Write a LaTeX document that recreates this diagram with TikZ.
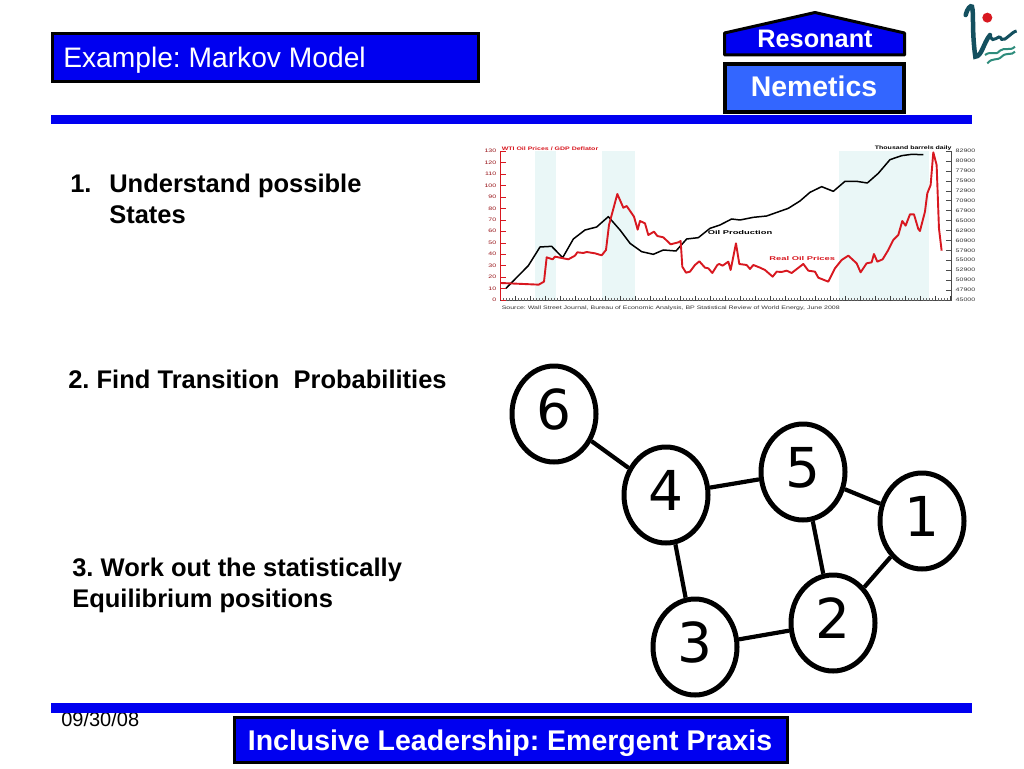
\documentclass[tikz,border=0pt]{standalone}
\usepackage{fontspec}
\setmainfont{Liberation Sans}
\newfontfamily\digitfont{DejaVu Sans}
\usepackage{xcolor}
\usetikzlibrary{positioning}
\usetikzlibrary{shapes.geometric}
\definecolor{barblue}{HTML}{0000F0}
\definecolor{lightblue}{HTML}{3366FF}
\definecolor{oilred}{HTML}{D81820}
\definecolor{bandteal}{HTML}{EAF7F7}
\definecolor{logoteal}{HTML}{14505F}
\definecolor{wavegreen}{HTML}{2E8C7C}
\newcommand{\sz}[1]{\fontsize{#1}{#1}\selectfont}
\frenchspacing

\begin{document}
\begin{tikzpicture}[x=1pt,y=-1pt,-,>=stealth,node distance=100pt,on grid,semithick]
  \tikzstyle{bar}=[fill=barblue,draw=none]
  \tikzstyle{bluebox}=[draw=black,fill=barblue,line width=3pt]
  \tikzstyle{body}=[anchor=base west,inner sep=0pt,font=\sz{25.5}\bfseries]
  \tikzstyle{whitetext}=[text=white,inner sep=0pt]
  \tikzstyle{vert}=[draw,ellipse,line width=5pt,minimum width=84pt,minimum height=96pt,inner sep=0pt,fill=white,text height=40pt,text depth=10pt,font=\digitfont\sz{55}]
  \tikzstyle{link}=[line width=4.2pt]
  \tikzstyle{tiny}=[inner sep=0pt,font=\sz{5},xscale=1.4,transform shape]
  \tikzstyle{tinybold}=[inner sep=0pt,font=\sz{5.5}\bfseries,xscale=1.7,transform shape]
  \useasboundingbox (0,0) rectangle (1024,768);
  \fill[white] (0,0) rectangle (1024,768);

  % header
  \draw[bluebox] (52,34) rectangle (478,81);
  \node[whitetext,anchor=base west,font=\sz{28.2}] (title) at (63,67) {Example: Markov Model};
  \draw[bluebox,line join=round] (724.5,33) -- (815,12.5) -- (904.5,33) -- (904.5,55) -- (724.5,55) -- cycle;
  \node[whitetext,anchor=base,font=\sz{25.3}\bfseries] (res) at (815,48) {Resonant};
  \draw[bluebox,fill=lightblue,line width=4pt] (725,63.5) rectangle (904,111.5);
  \node[whitetext,anchor=base,font=\sz{28.4}\bfseries] (nem) at (814,96) {Nemetics};
  \fill[bar] (51,115) rectangle (972,124);

  % logo
  \begin{scope}[shift={(700,0)},x=0.3333pt,y=-0.3333pt]
    \draw[logoteal,line width=4.5pt,line cap=round] (797,45) .. controls (802,25) and (812,15) .. (816,20) .. controls (822,40) and (815,90) .. (826,170) .. controls (845,170) and (850,130) .. (870,105);
    \draw[logoteal,line width=3pt] (870,105) .. controls (880,140) and (895,95) .. (905,118) .. controls (915,125) and (935,95) .. (950,93);
    \fill[oilred] (862,53) circle (15);
    \draw[wavegreen,line width=2pt] (855,165) .. controls (875,150) and (885,170) .. (900,152) .. controls (915,140) and (930,155) .. (945,140);
    \draw[wavegreen,line width=2pt] (862,190) .. controls (880,170) and (890,185) .. (905,170) .. controls (920,155) and (935,168) .. (945,155);
  \end{scope}

  % chart
  \begin{scope}[shift={(480,135)},x=0.3333pt,y=-0.3333pt]
    \foreach \xa/\xb in {165/228,366/466,1078/1347}
      \fill[bandteal] (\xa,48) rectangle (\xb,495);
    \draw[black!70,line width=0.6pt] (62,497) -- (1415,497);
    \foreach \tx in {62,71,...,1415}
      \draw[black!60,line width=0.5pt] (\tx,490) -- (\tx,497);
    \foreach \tx in {62,107,...,1415}
      \draw[black!75,line width=0.6pt] (\tx,483) -- (\tx,497);
    \draw[oilred,line width=0.9pt] (62,48) -- (62,495);
    \draw[black!70,line width=0.5pt] (1415,48) -- (1415,495);
    \foreach \lab [count=\i from 0] in {130,120,110,100,90,80,70,60,50,40,30,20,10,0} {
      \draw[oilred,line width=0.4pt] (62,48+34.4*\i) -- (78,48+34.4*\i);
      \node[tiny,text=oilred!70!black,anchor=east] (L\i) at (50,48+34.4*\i) {\lab};
    }
    \foreach \lab [count=\i from 0] in {82900,80900,77900,75900,72900,70900,67900,65000,62900,60900,57900,55000,52900,50900,47900,45000} {
      \draw[black!70,line width=0.4pt] (1398,48+29.8*\i) -- (1415,48+29.8*\i);
      \node[tiny,text=black!80,anchor=west] (R\i) at (1426,48+29.8*\i) {\lab};
    }
    \draw[black,line width=1.5pt,line join=round] plot coordinates {(78,460) (145,392) (180,336) (215,334) (248,368) (280,312) (315,285) (350,276) (385,245) (420,285) (450,325) (485,350) (520,358) (550,345) (588,348) (620,312) (655,308) (690,280) (720,270) (755,252) (780,255) (820,247) (860,243) (925,220) (960,198) (990,172) (1025,155) (1060,169) (1095,139) (1130,139) (1162,144) (1195,115) (1230,74) (1265,62) (1295,58) (1330,59)};
    \draw[oilred,line width=1.9pt,line join=round] plot coordinates {(62,444) (176,449) (192,440) (200,367) (218,373) (225,365) (250,370) (265,373) (285,362) (292,352) (310,354) (320,351) (345,355) (365,361) (378,345) (387,270) (412,177) (430,218) (440,213) (462,245) (473,284) (480,258) (495,265) (505,300) (522,290) (532,303) (550,307) (572,328) (595,322) (602,318) (607,395) (618,413) (630,410) (645,390) (658,379) (675,398) (685,400) (697,414) (712,390) (718,387) (728,392) (745,380) (752,405) (768,325) (778,387) (800,390) (810,402) (820,390) (840,398) (855,405) (878,425) (890,410) (905,411) (920,407) (935,414) (970,387) (985,407) (1005,410) (1015,428) (1045,440) (1065,400) (1085,375) (1105,362) (1130,385) (1142,412) (1160,385) (1175,382) (1182,357) (1192,380) (1208,373) (1225,345) (1240,315) (1255,300) (1267,258) (1277,272) (1290,238) (1302,238) (1315,282) (1320,288) (1335,230) (1342,175) (1352,150) (1360,52) (1370,90) (1377,280) (1385,347)};
    \node[tiny,font=\sz{5}\bfseries,text=oilred,anchor=west] (wti) at (64,40) {WTI Oil Prices / GDP Deflator};
    \node[tiny,font=\sz{5}\bfseries,anchor=east] (kbd) at (1416,40) {Thousand barrels daily};
    \node[tinybold,anchor=west] (prod) at (682,292) {Oil Production};
    \node[tinybold,text=oilred,anchor=west] (real) at (867,372) {Real Oil Prices};
    \node[tiny,text=black!80,anchor=west] (src) at (64,519) {Source: Wall Street Journal, Bureau of Economic Analysis, BP Statistical Review of World Energy, June 2008};
  \end{scope}

  % list
  \node[body] (one) at (70,192) {1.};
  \node[body] (item1) at (109,192) {Understand possible};
  \node[body] (item1b) at (109,223) {States};
  \node[body] (item2) at (68,388) {2. Find Transition\ \ Probabilities};
  \node[body] (item3) at (72,576) {3. Work out the statistically};
  \node[body] (item3b) at (72,607) {Equilibrium positions};

  % graph
  \node[vert] (F) at (554,414) {6};
  \node[vert] (D) [below right=81pt and 112pt of F] {4};
  \node[vert] (E) [above right=23pt and 137pt of D] {5};
  \node[vert] (A) [below right=49pt and 119pt of E] {1};
  \node[vert] (B) [below left=102pt and 89pt of A] {2};
  \node[vert] (C) [below left=24pt and 138pt of B] {3};
  \path[link]
        (F) edge (D)
        (D) edge (E)
        (E) edge (A)
        (E) edge (B)
        (A) edge (B)
        (D) edge (C)
        (C) edge (B);

  % footer
  \node[anchor=base west,inner sep=0pt,font=\sz{20}] (date) at (61,726) {09/30/08};
  \fill[bar] (51,703) rectangle (972,713);
  \draw[bluebox] (234,717) rectangle (787,762);
  \node[whitetext,anchor=base,font=\sz{28.5}\bfseries] (foot) at (510,750) {Inclusive Leadership: Emergent Praxis};
\end{tikzpicture}
\end{document}
